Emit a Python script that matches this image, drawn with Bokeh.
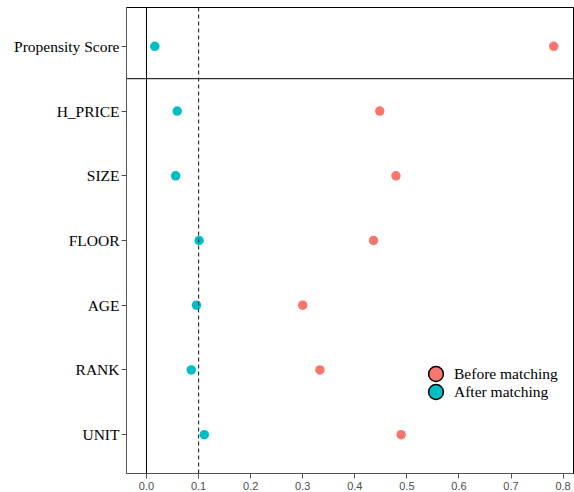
from bokeh.plotting import figure
from bokeh.models import Span, Range1d, Legend, LegendItem, ColumnDataSource, FixedTicker, NumeralTickFormatter
from bokeh.embed import file_html
from bokeh.resources import INLINE

# ---- data ----
variables = ["Propensity Score", "H_PRICE", "SIZE", "FLOOR", "AGE", "RANK", "UNIT"]
before_matching = [0.782, 0.448, 0.479, 0.436, 0.300, 0.333, 0.489]
after_matching = [0.016, 0.059, 0.056, 0.101, 0.096, 0.086, 0.111]
x_ticks = [0.0, 0.1, 0.2, 0.3, 0.4, 0.5, 0.6, 0.7, 0.8]
threshold = 0.1

n = len(variables)
ypos = [n - i for i in range(n)]
src = ColumnDataSource(dict(y=ypos, before=before_matching, after=after_matching, name=variables))

p = figure(width=574, height=492, output_backend="svg", toolbar_location=None,
           x_range=Range1d(-0.0384, 0.82), y_range=Range1d(0.4, n + 0.6),
           min_border_left=126, min_border_right=1, min_border_top=7, min_border_bottom=0)

p.xgrid.visible = False
p.ygrid.visible = False
p.outline_line_color = "black"
p.outline_line_width = 1
p.background_fill_color = "white"
p.border_fill_color = "white"

# reference lines
p.add_layout(Span(location=0, dimension="height", line_color="black", line_width=1))
p.add_layout(Span(location=threshold, dimension="height", line_color="#333333", line_width=1.2, line_dash="4 3"))
p.add_layout(Span(location=n - 0.5, dimension="width", line_color="black", line_width=1))

# points
r_before = p.scatter("before", "y", source=src, size=9.5, fill_color="#F8766D", line_color=None)
r_after = p.scatter("after", "y", source=src, size=9.5, fill_color="#00BFC4", line_color=None)

# legend proxies (hidden renderers with outlined markers)
l_before = p.scatter("before", "y", source=src, size=15, fill_color="#F8766D", line_color="black", line_width=1.5, visible=False)
l_after = p.scatter("after", "y", source=src, size=15, fill_color="#00BFC4", line_color="black", line_width=1.5, visible=False)

legend_style = dict(padding=0, margin=0, spacing=0,
                    glyph_width=37, glyph_height=37, label_height=37, label_standoff=0,
                    border_line_color=None, background_fill_alpha=0,
                    label_text_font="Liberation Serif", label_text_font_size="15.5px",
                    label_text_color="black", click_policy="none")
legend1 = Legend(items=[LegendItem(label="Before matching", renderers=[l_before])],
                 location=(291, 81), **legend_style)
legend2 = Legend(items=[LegendItem(label="After matching", renderers=[l_after])],
                 location=(291, 63), **legend_style)
p.add_layout(legend1)
p.add_layout(legend2)

# axes
p.yaxis.ticker = FixedTicker(ticks=ypos)
p.yaxis.major_label_overrides = {y: v for y, v in zip(ypos, variables)}
p.yaxis.major_label_text_font = "Liberation Serif"
p.yaxis.major_label_text_font_size = "15.5px"
p.yaxis.major_label_text_color = "black"
p.yaxis.major_label_standoff = 2
p.yaxis.minor_tick_line_color = None
p.yaxis.major_tick_in = 0
p.yaxis.major_tick_out = 5
p.yaxis.major_tick_line_color = "#555555"
p.yaxis.axis_line_color = "#555555"

p.xaxis.ticker = FixedTicker(ticks=x_ticks)
p.xaxis.formatter = NumeralTickFormatter(format="0.0")
p.xaxis.major_label_text_font = "Liberation Sans"
p.xaxis.major_label_text_font_size = "11px"
p.xaxis.major_label_text_color = "#4D4D4D"
p.xaxis.major_label_standoff = 3
p.xaxis.minor_tick_line_color = None
p.xaxis.major_tick_in = 0
p.xaxis.major_tick_out = 5
p.xaxis.major_tick_line_color = "#555555"
p.xaxis.axis_line_color = "#555555"

open("out.html", "w").write(file_html(p, INLINE))
